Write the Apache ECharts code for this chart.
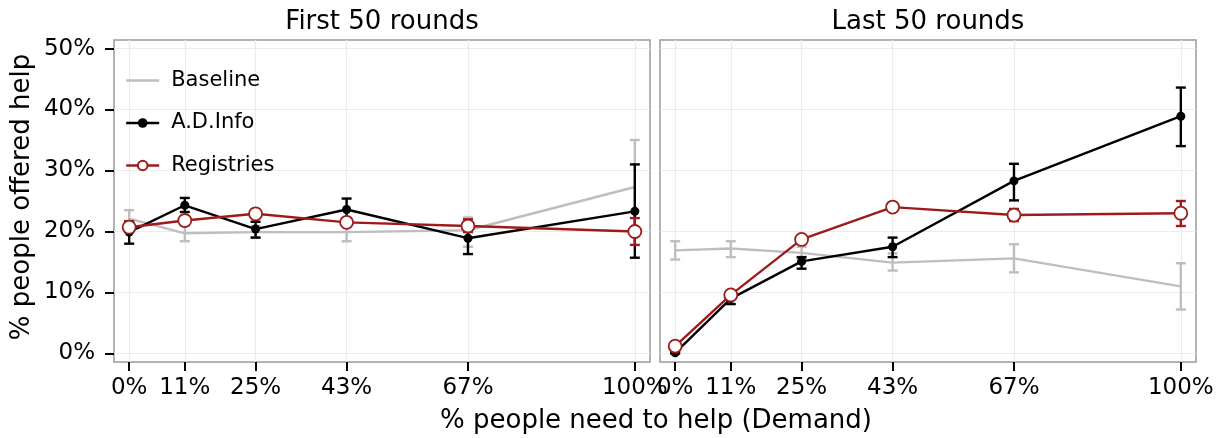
<!DOCTYPE html>
<html>
<head>
<meta charset="utf-8">
<script src="https://cdn.jsdelivr.net/npm/echarts@6/dist/echarts.min.js"></script>
<style>html,body{margin:0;padding:0;background:#fff}#c{width:1226px;height:438px}</style>
</head>
<body>
<div id="c"></div>
<script>
// Demand levels (x, in %)
const demand = [0, 11, 25, 43, 67, 100];
const xTickLabels = ['0%', '11%', '25%', '43%', '67%', '100%'];
const yTicks = [0, 10, 20, 30, 40, 50];
const seriesNames = ['Baseline', 'A.D.Info', 'Registries'];
const panelTitles = ['First 50 rounds', 'Last 50 rounds'];

// First 50 rounds
const baseFirst   = [22.1, 19.7, 19.9, 19.9, 20.2, 27.3];
const baseFirstLo = [20.7, 18.4, 19.0, 18.4, 17.5, 19.6];
const baseFirstHi = [23.5, 21.0, 20.9, 21.3, 22.3, 35.0];
const adFirst     = [19.9, 24.3, 20.4, 23.6, 18.9, 23.3];
const adFirstLo   = [18.0, 23.2, 19.0, 21.7, 16.3, 15.7];
const adFirstHi   = [21.6, 25.5, 21.6, 25.4, 21.3, 31.0];
const regFirst    = [20.7, 21.8, 22.9, 21.5, 20.9, 20.0];
const regFirstLo  = [19.9, 21.3, 22.4, 21.0, 19.9, 17.8];
const regFirstHi  = [21.7, 22.3, 23.4, 22.0, 22.0, 22.2];

// Last 50 rounds
const baseLast    = [16.9, 17.2, 16.5, 14.9, 15.6, 11.0];
const baseLastLo  = [15.4, 15.8, 15.6, 13.6, 13.3, 7.2];
const baseLastHi  = [18.4, 18.4, 17.5, 16.4, 17.9, 14.8];
const adLast      = [0.1, 9.0, 15.1, 17.5, 28.3, 38.9];
const adLastLo    = [0.0, 8.1, 13.9, 15.8, 25.1, 34.0];
const adLastHi    = [0.2, 9.6, 15.8, 19.0, 31.1, 43.6];
const regLast     = [1.2, 9.6, 18.7, 24.0, 22.7, 23.0];
const regLastLo   = [0.9, 9.2, 18.3, 23.7, 21.7, 20.9];
const regLastHi   = [1.5, 10.0, 19.1, 24.3, 23.7, 25.0];

const FONT = 'DejaVu Sans';
const GRAY = '#bebebe', BLACK = '#000000', RED = '#9e1b1b';

function pts(ys) { return demand.map((x, i) => [x, ys[i]]); }
function errPts(lo, hi) { return demand.map((x, i) => [x, lo[i], hi[i]]); }

function errSeries(name, color, lo, hi, idx, z) {
  return {
    type: 'custom', name: name + ' err', xAxisIndex: idx, yAxisIndex: idx, z: z,
    silent: true,
    encode: { x: 0, y: [1, 2] },
    data: errPts(lo, hi),
    renderItem: function (params, api) {
      const x = api.value(0);
      const a = api.coord([x, api.value(1)]);
      const b = api.coord([x, api.value(2)]);
      const w = 5;
      const st = { stroke: color, lineWidth: 2.4 };
      return { type: 'group', children: [
        { type: 'line', shape: { x1: a[0], y1: a[1], x2: b[0], y2: b[1] }, style: st },
        { type: 'line', shape: { x1: a[0] - w, y1: a[1], x2: a[0] + w, y2: a[1] }, style: st },
        { type: 'line', shape: { x1: b[0] - w, y1: b[1], x2: b[0] + w, y2: b[1] }, style: st }
      ]};
    }
  };
}

function lineSeries(name, ys, idx, z) {
  const s = {
    type: 'line', name: name, xAxisIndex: idx, yAxisIndex: idx, z: z,
    data: pts(ys), animation: false, emphasis: { disabled: true },
    lineStyle: { width: 2.4 }
  };
  if (name === 'Baseline') {
    s.symbol = 'none'; s.showSymbol = false;
    s.lineStyle.color = GRAY; s.itemStyle = { color: GRAY };
  } else if (name === 'A.D.Info') {
    s.symbol = 'circle'; s.symbolSize = 9;
    s.lineStyle.color = BLACK; s.itemStyle = { color: BLACK };
  } else {
    s.symbol = 'circle'; s.symbolSize = 13;
    s.lineStyle.color = RED; s.itemStyle = { color: '#ffffff', borderColor: RED, borderWidth: 1.8 };
  }
  return s;
}

const gridLefts = [114, 660];
const grids = gridLefts.map(l => ({
  left: l, top: 40, width: 536, height: 322, show: true,
  borderColor: '#9a9a9a', borderWidth: 1.5, backgroundColor: '#ffffff',
  outerBoundsMode: 'none', containLabel: false
}));

const xAxes = [0, 1].map(i => ({
  type: 'value', gridIndex: i, min: -3, max: 103,
  axisLine: { show: false, onZero: false },
  axisTick: { show: true, length: 9, customValues: demand, lineStyle: { color: '#000', width: 2 } },
  axisLabel: { customValues: demand, margin: 15, color: '#000', fontFamily: FONT, fontSize: 23,
    formatter: v => xTickLabels[demand.indexOf(v)] },
  splitLine: { show: true, lineStyle: { color: '#ebebeb', width: 1.2 } }
}));

const yAxes = [0, 1].map(i => ({
  type: 'value', gridIndex: i, min: -1.4, max: 51.4,
  axisLine: { show: false, onZero: false },
  axisTick: { show: i === 0, length: 9, customValues: yTicks, lineStyle: { color: '#000', width: 2 } },
  axisLabel: { show: i === 0, customValues: yTicks, margin: 19, color: '#000', fontFamily: FONT, fontSize: 23,
    formatter: v => v + '%' },
  splitLine: { show: true, lineStyle: { color: '#ebebeb', width: 1.2 } }
}));

const series = [];
const panels = [
  [baseFirst, baseFirstLo, baseFirstHi, adFirst, adFirstLo, adFirstHi, regFirst, regFirstLo, regFirstHi],
  [baseLast, baseLastLo, baseLastHi, adLast, adLastLo, adLastHi, regLast, regLastLo, regLastHi]
];
const colors = [GRAY, BLACK, RED];
panels.forEach((p, idx) => {
  seriesNames.forEach((n, k) => {
    series.push(errSeries(n, colors[k], p[k * 3 + 1], p[k * 3 + 2], idx, 2 + k * 2));
    series.push(lineSeries(n, p[k * 3], idx, 3 + k * 2));
  });
});

const chart = echarts.init(document.getElementById('c'), null, { renderer: 'canvas' });
chart.setOption({
  animation: false,
  backgroundColor: '#ffffff',
  grid: grids,
  xAxis: xAxes,
  yAxis: yAxes,
  legend: {
    data: [
      { name: seriesNames[0], itemStyle: { opacity: 0 } },
      { name: seriesNames[1] },
      { name: seriesNames[2] }
    ],
    orient: 'vertical', left: 120, top: 65,
    itemWidth: 33, itemHeight: 12, itemGap: 21.5,
    selectedMode: false,
    lineStyle: { width: 2.4 },
    textStyle: { fontFamily: FONT, fontSize: 21, color: '#000', padding: [0, 0, 0, 7] }
  },
  graphic: [
    { type: 'text', x: 382, y: 22, style: { text: panelTitles[0], fontFamily: FONT, fontSize: 26, fill: '#000', textAlign: 'center', textVerticalAlign: 'middle' } },
    { type: 'text', x: 928, y: 22, style: { text: panelTitles[1], fontFamily: FONT, fontSize: 26, fill: '#000', textAlign: 'center', textVerticalAlign: 'middle' } },
    { type: 'text', x: 656, y: 421, style: { text: '% people need to help (Demand)', fontFamily: FONT, fontSize: 26, fill: '#000', textAlign: 'center', textVerticalAlign: 'middle' } },
    { type: 'text', x: 22, y: 197, rotation: Math.PI / 2, style: { text: '% people offered help', fontFamily: FONT, fontSize: 26, fill: '#000', textAlign: 'center', textVerticalAlign: 'middle' } }
  ],
  series: series
});
</script>
</body>
</html>
